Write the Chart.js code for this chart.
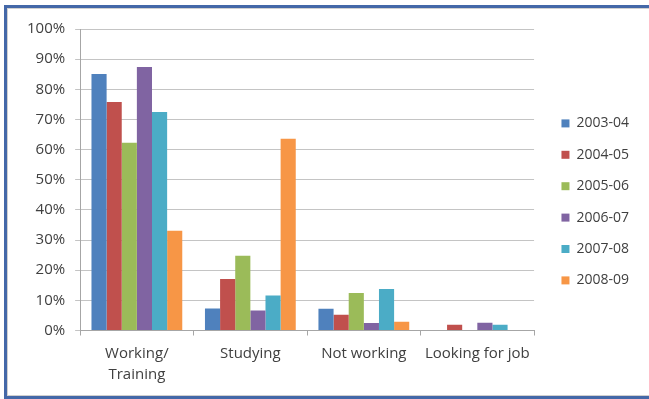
<!DOCTYPE html>
<html>
<head>
<meta charset="utf-8">
<script src="https://cdn.jsdelivr.net/npm/chart.js@4/dist/chart.umd.min.js"></script>
<style>
  html, body { margin: 0; padding: 0; width: 649px; height: 399px; overflow: hidden; background: #fff; }
  #frame { position: absolute; left: 4px; top: 5px; width: 700px; height: 388px; border: 3px solid #4468a8; box-shadow: inset 0 0 0 1px #d0d0d0; background: #fff; }
  #wrap { position: absolute; left: 0; top: 0; width: 649px; height: 399px; }
</style>
</head>
<body>
<div id="frame"></div>
<div id="wrap"><canvas id="c" width="649" height="399"></canvas></div>
<script>
const categories = [["Working/", "Training"], "Studying", "Not working", "Looking for job"];
const seriesNames = ["2003-04", "2004-05", "2005-06", "2006-07", "2007-08", "2008-09"];
const s2003 = [85.1, 7.3, 7.2, 0];
const s2004 = [75.8, 17.1, 5.2, 1.9];
const s2005 = [62.3, 24.8, 12.4, 0];
const s2006 = [87.4, 6.6, 2.5, 2.6];
const s2007 = [72.5, 11.6, 13.8, 1.9];
const s2008 = [33.1, 63.6, 2.9, 0];
const yTicks = [0, 10, 20, 30, 40, 50, 60, 70, 80, 90, 100];

const colors = ["#4F81BD", "#C0504D", "#9BBB59", "#8064A2", "#4BACC6", "#F79646"];
const seriesData = [s2003, s2004, s2005, s2006, s2007, s2008];

const fontFam = "'Open Sans', sans-serif";
new Chart(document.getElementById('c'), {
  type: 'bar',
  data: {
    labels: categories,
    datasets: seriesNames.map((n, i) => ({
      label: n,
      data: seriesData[i],
      backgroundColor: colors[i],
      borderWidth: 0,
      categoryPercentage: 0.8,
      barPercentage: 1.0
    }))
  },
  options: {
    responsive: false,
    animation: false,
    layout: { padding: { left: 17, top: 29, right: 10, bottom: 6 } },
    plugins: {
      legend: {
        position: 'right',
        align: 'start',
        title: { display: true, text: '', font: { size: 10, lineHeight: 1.2 }, padding: { top: 58, bottom: 0 } },
        labels: {
          boxWidth: 8, boxHeight: 8, padding: 17.4,
          color: '#404040',
          font: { family: fontFam, size: 14 }
        }
      },
      tooltip: { enabled: false }
    },
    scales: {
      x: {
        grid: { display: true, drawOnChartArea: false, offset: true, tickLength: 5, color: '#a6a6a6' },
        border: { display: true, color: '#a6a6a6' },
        ticks: { color: '#404040', font: { family: fontFam, size: 15, lineHeight: 1.45 }, padding: 7, maxRotation: 0 }
      },
      y: {
        min: 0, max: 100,
        afterBuildTicks: s => { s.ticks = yTicks.map(v => ({ value: v })); },
        grid: { color: '#c4c4c4', tickLength: 5, drawTicks: true },
        border: { display: true, color: '#a6a6a6' },
        ticks: { color: '#404040', font: { family: fontFam, size: 15 }, padding: 10, callback: v => v + '%' }
      },
      gap: {
        position: 'right', display: true,
        grid: { display: false }, border: { display: false },
        ticks: { display: false },
        afterFit: s => { s.width = 10; }
      }
    }
  }
});
</script>
</body>
</html>
